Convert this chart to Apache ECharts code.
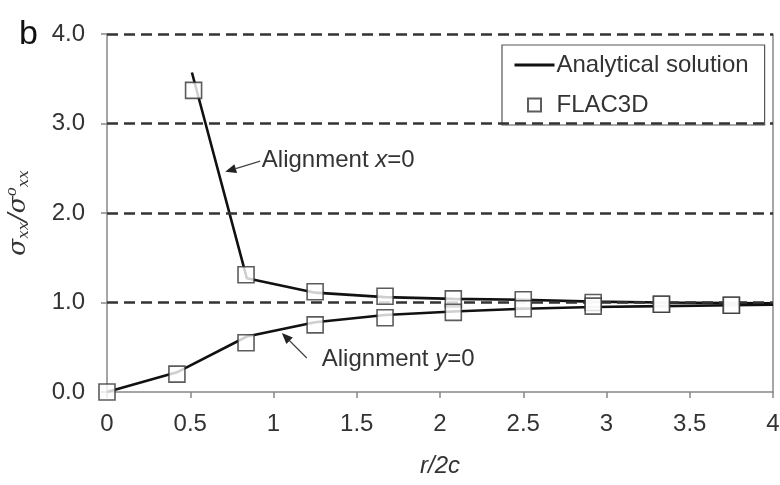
<!DOCTYPE html>
<html>
<head>
<meta charset="utf-8">
<script src="https://cdn.jsdelivr.net/npm/echarts@6/dist/echarts.min.js"></script>
<style>html,body{margin:0;padding:0;background:#fff;}#c{width:780px;height:485px;}</style>
</head>
<body>
<div id="c"></div>
<script>
// ---- data ----
const anaUpperX = [0.51, 0.84, 1.25, 1.67, 2.08, 2.5, 2.92, 3.33, 3.75, 4.0];
const anaUpperY = [3.57, 1.27, 1.11, 1.06, 1.04, 1.03, 1.01, 1.0, 0.995, 0.99];
const anaLowerX = [0, 0.42, 0.84, 1.25, 1.67, 2.08, 2.5, 2.92, 3.33, 3.75, 4.0];
const anaLowerY = [0, 0.22, 0.62, 0.78, 0.86, 0.9, 0.93, 0.95, 0.96, 0.97, 0.975];
const flacUpperX = [0.52, 0.835, 1.25, 1.67, 2.08, 2.5, 2.92, 3.33, 3.75];
const flacUpperY = [3.37, 1.31, 1.12, 1.07, 1.04, 1.03, 1.0, 0.98, 0.97];
const flacLowerX = [0, 0.42, 0.835, 1.25, 1.67, 2.08, 2.5, 2.92, 3.33, 3.75];
const flacLowerY = [0, 0.20, 0.55, 0.75, 0.83, 0.89, 0.93, 0.96, 0.98, 0.97];
const yGridValues = [1, 2, 3, 4];
const seriesNames = ['Analytical solution', 'FLAC3D'];
// annotations: [textX, textY, arrowTailX, arrowTailY, arrowTipX, arrowTipY]
const annX0 = [0.93, 2.59, 0.92, 2.58, 0.71, 2.46];
const annY0 = [1.29, 0.36, 1.2, 0.38, 1.05, 0.66];

const zip = (xs, ys) => xs.map((x, i) => [x, ys[i]]);
const FONT = "'Liberation Sans', Arial, sans-serif";
const TXT = '#333';
const FS = 24;

const chart = echarts.init(document.getElementById('c'));
const option = {
  animation: false,
  backgroundColor: '#fff',
  grid: { left: 107, right: 7, top: 34, bottom: 93, outerBoundsMode: 'none', containLabel: false },
  legend: {
    orient: 'vertical',
    left: 502, top: 45,
    data: [
      { name: seriesNames[0], itemStyle: { opacity: 0 }, lineStyle: { width: 3, color: '#111' } },
      { name: seriesNames[1], icon: 'path://M0,0H10V10H0Z' }
    ],
    symbolKeepAspect: true,
    itemWidth: 40, itemHeight: 13, itemGap: 16,
    padding: [8, 16, 8, 11],
    borderColor: '#555', borderWidth: 1.2,
    textStyle: { fontFamily: FONT, fontSize: FS, color: TXT, padding: [0, 0, 0, -3] }
  },
  xAxis: {
    type: 'value', min: 0, max: 4, interval: 0.5,
    name: '{i|r}/2{i|c}', nameLocation: 'middle', nameGap: 62,
    nameTextStyle: { fontFamily: FONT, fontSize: FS, color: TXT, fontStyle: 'italic',
      rich: { i: { fontFamily: FONT, fontSize: FS, color: TXT, fontStyle: 'italic' } } },
    axisLine: { lineStyle: { color: '#888', width: 1.5 } },
    axisTick: { show: true, length: 6, lineStyle: { color: '#888', width: 1.5 } },
    axisLabel: { fontFamily: FONT, fontSize: FS, color: TXT, margin: 20 },
    splitLine: { show: false }
  },
  yAxis: [{
    type: 'value', min: 0, max: 4, interval: 1,
    name: '{s|σ}{sub|xx}{s|/σ}{sup|o}{sub|xx}', nameLocation: 'middle', nameGap: 72, nameRotate: 90,
    nameTextStyle: {
      rich: {
        s: { fontFamily: 'DejaVu Serif', fontStyle: 'italic', fontSize: 25, color: TXT, lineHeight: 34, verticalAlign: 'middle' },
        sub: { fontFamily: 'DejaVu Serif', fontStyle: 'italic', fontSize: 15, color: TXT, lineHeight: 34, verticalAlign: 'bottom', padding: [0, 0, 3, 0] },
        sup: { fontFamily: 'DejaVu Serif', fontStyle: 'italic', fontSize: 15, color: TXT, lineHeight: 34, verticalAlign: 'top', padding: [4, 0, 0, 0] }
      }
    },
    axisLine: { show: true, lineStyle: { color: '#888', width: 1.5 } },
    axisTick: { show: true, length: 6, lineStyle: { color: '#888', width: 1.5 } },
    axisLabel: { fontFamily: FONT, fontSize: FS, color: TXT, margin: 22, formatter: v => v.toFixed(1) },
    splitLine: { show: false }
  }, {
    type: 'value', min: 0, max: 4, position: 'right',
    axisLine: { show: true, lineStyle: { color: '#888', width: 1.5 } },
    axisTick: { show: false }, axisLabel: { show: false }, splitLine: { show: false }
  }],
  series: [
    {
      name: seriesNames[0], type: 'line', data: zip(anaUpperX, anaUpperY),
      symbol: 'none', lineStyle: { color: '#111', width: 2.6 }, itemStyle: { color: '#111' }, z: 3,
      markLine: {
        silent: true, symbol: ['none', 'none'], label: { show: false },
        lineStyle: { type: [11, 6], color: '#333', width: 2.6 },
        data: yGridValues.map(v => ({ yAxis: v }))
      }
    },
    {
      name: seriesNames[0], type: 'line', data: zip(anaLowerX, anaLowerY),
      symbol: 'none', lineStyle: { color: '#111', width: 2.6 }, itemStyle: { color: '#111' }, z: 3
    },
    {
      name: seriesNames[1], type: 'scatter', data: zip(flacUpperX, flacUpperY),
      symbol: 'rect', symbolSize: 16,
      itemStyle: { color: '#fff', borderColor: '#333', borderWidth: 1.6 }, z: 5
    },
    {
      name: seriesNames[1], type: 'scatter', data: zip(flacLowerX, flacLowerY),
      symbol: 'rect', symbolSize: 16,
      itemStyle: { color: '#fff', borderColor: '#333', borderWidth: 1.6 }, z: 5
    }
  ]
};
chart.setOption(option);

function annotation(a, label) {
  const t = chart.convertToPixel({ gridIndex: 0 }, [a[0], a[1]]);
  const p1 = chart.convertToPixel({ gridIndex: 0 }, [a[2], a[3]]);
  const p2 = chart.convertToPixel({ gridIndex: 0 }, [a[4], a[5]]);
  const ang = Math.atan2(p2[1] - p1[1], p2[0] - p1[0]);
  const L = 11, W = 4.5;
  const bx = p2[0] - L * Math.cos(ang), by = p2[1] - L * Math.sin(ang);
  const nx = -Math.sin(ang), ny = Math.cos(ang);
  return [
    { type: 'line', shape: { x1: p1[0], y1: p1[1], x2: bx, y2: by }, style: { stroke: '#444', lineWidth: 1.2 }, z: 10 },
    { type: 'polygon', shape: { points: [[p2[0], p2[1]], [bx + nx * W, by + ny * W], [bx - nx * W, by - ny * W]] }, style: { fill: '#222' }, z: 10 },
    { type: 'text', x: t[0], y: t[1], style: {
        text: label, fontFamily: FONT, fontSize: FS, fill: TXT, verticalAlign: 'middle', align: 'left',
        rich: { i: { fontFamily: FONT, fontSize: FS, fill: TXT, fontStyle: 'italic' } } }, z: 10 }
  ];
}

chart.setOption({
  graphic: [
    { type: 'text', left: 19, top: 18, style: { text: 'b', fontFamily: FONT, fontSize: 34, fill: '#111' } },
    ...annotation(annX0, 'Alignment {i|x}=0'),
    ...annotation(annY0, 'Alignment {i|y}=0')
  ]
});
</script>
</body>
</html>
